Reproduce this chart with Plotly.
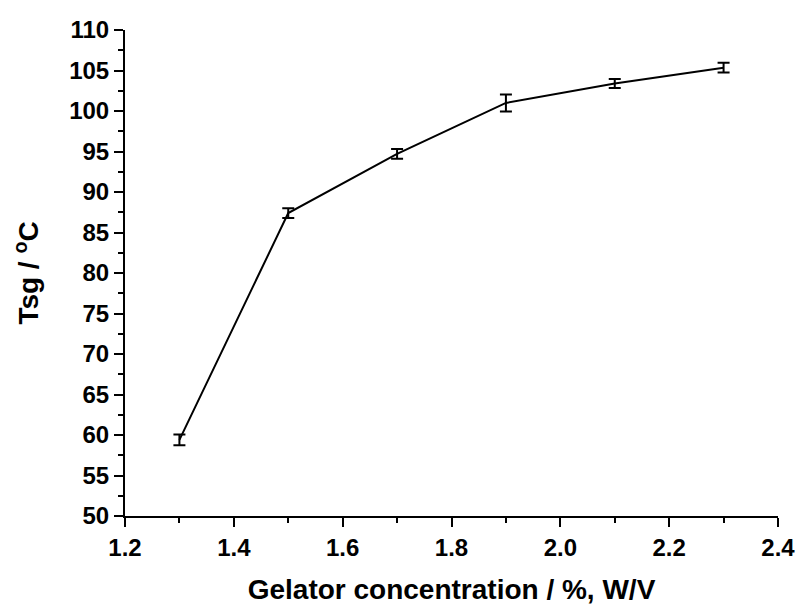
import plotly.graph_objects as go

conc = [1.3, 1.5, 1.7, 1.9, 2.1, 2.3]
tsg = [59.4, 87.4, 94.7, 101.0, 103.4, 105.35]
err = [0.65, 0.6, 0.6, 1.05, 0.55, 0.6]

fig = go.Figure(go.Scatter(
    x=conc, y=tsg, mode="lines",
    line=dict(color="black", width=2),
    error_y=dict(type="data", array=err, visible=True, color="black", thickness=2, width=6),
))

font_tick = dict(family="Liberation Sans, Arial, sans-serif", size=24, color="black", weight="bold")
font_title = dict(family="Liberation Sans, Arial, sans-serif", size=28, color="black", weight="bold")

fig.update_layout(
    width=802, height=608,
    margin=dict(l=125, r=24, t=30, b=92),
    plot_bgcolor="white", paper_bgcolor="white",
    showlegend=False,
    xaxis=dict(
        range=[1.2, 2.4], dtick=0.2, tick0=1.2, tickformat=".1f",
        automargin=False,
        showgrid=False, zeroline=False, showline=True, linecolor="black", linewidth=2,
        ticks="outside", ticklen=9, tickwidth=2, tickcolor="black",
        minor=dict(dtick=0.1, ticks="outside", ticklen=5, tickwidth=2, tickcolor="black"),
        tickfont=font_tick,
        title=dict(text="Gelator concentration / %, W/V", font=font_title, standoff=20),
    ),
    yaxis=dict(
        range=[50, 110], dtick=5, tick0=50,
        automargin=False,
        showgrid=False, zeroline=False, showline=True, linecolor="black", linewidth=2,
        ticks="outside", ticklen=9, tickwidth=2, tickcolor="black",
        minor=dict(dtick=2.5, ticks="outside", ticklen=5, tickwidth=2, tickcolor="black"),
        tickfont=font_tick,
        title=dict(text="Tsg / <sup>o</sup>C", font=font_title, standoff=22),
    ),
)

fig.write_html("out.html")
